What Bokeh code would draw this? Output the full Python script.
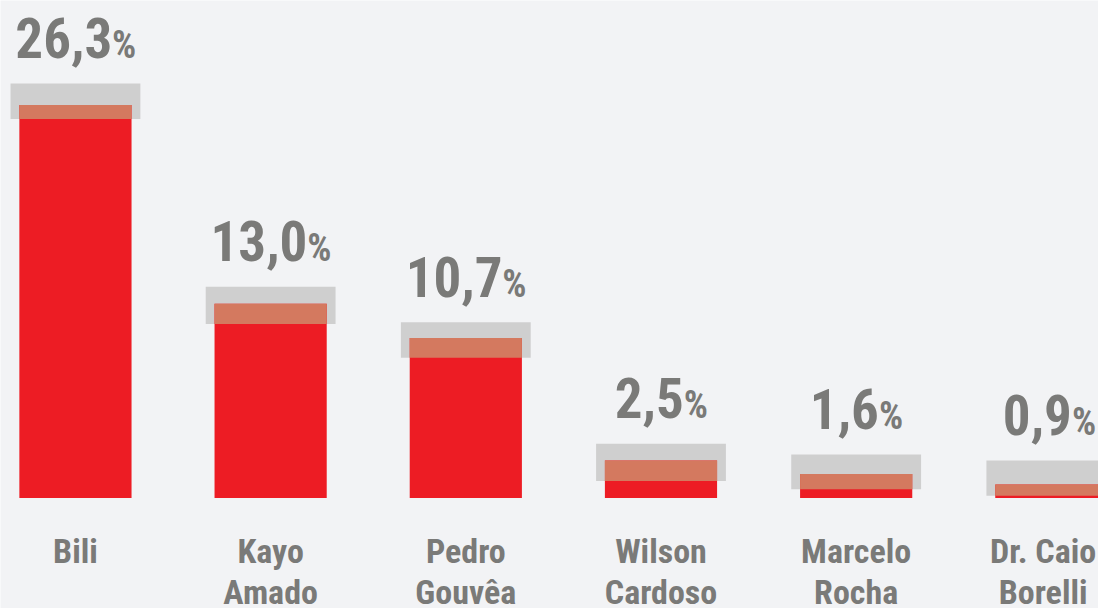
from bokeh.plotting import figure
from bokeh.models import Range1d, ColumnDataSource
from bokeh.core.properties import value
from bokeh.embed import file_html
from bokeh.resources import INLINE

# ---- data ----
candidates = ["Bili", "Kayo\nAmado", "Pedro\nGouvêa", "Wilson\nCardoso", "Marcelo\nRocha", "Dr. Caio\nBorelli"]
values = [26.3, 13.0, 10.7, 2.5, 1.6, 0.9]
labels = ["26,3", "13,0", "10,7", "2,5", "1,6", "0,9"]
band_lo = [25.36, 11.65, 9.38, 1.14, 0.59, 0.15]
band_hi = [27.74, 14.13, 11.76, 3.63, 2.91, 2.51]

BG = "#f2f3f5"
RED = "#ed1c24"
GRAY = "#cfcfcf"
OVER = "#d4795f"
TXT = "#7a7a78"
FONT = value("'Roboto Condensed', Roboto")

W, H = 1098, 608
PITCH = 195.18          # px per category
X0 = 74.95              # px centre of first category
BASE = 497.45           # px of the zero line from the top
PPU = 14.94             # px per percentage point

x = list(range(len(values)))
line1 = [c.split("\n")[0] for c in candidates]
line2 = [c.split("\n")[1] if "\n" in c else "" for c in candidates]
over_bottom = [max(lo, 0) for lo in band_lo]

# approximate text widths (Roboto Condensed Bold) to centre number + small %
NUM_SIZE, PCT_SIZE, NAME_SIZE = 55, 38, 34
def num_width(s):
    return sum(0.22 if ch == "," else 0.5 for ch in s) * NUM_SIZE
pct_w = 0.62 * PCT_SIZE
gap = 2
num_off, pct_off = [], []
for i, s in enumerate(labels):
    nw = num_width(s)
    total = nw + gap + pct_w
    cx = X0 + PITCH * i
    shift = min(0.0, (W - 3) - (cx + total / 2))
    num_off.append(-total / 2 + shift)
    pct_off.append(-total / 2 + nw + gap + shift)

CW = {"M": .76, "D": .57, "C": .57, "B": .55, "K": .55, "A": .58, "P": .55, "G": .59,
      "W": .76, "R": .55, "r": .30, ".": .23, " ": .22, "i": .22, "l": .22, "a": .47,
      "o": .50, "y": .43, "m": .77, "d": .49, "e": .46, "c": .46, "h": .49, "u": .49,
      "v": .43, "ê": .46, "s": .45, "n": .49}
def name_w(s):
    return sum(CW.get(ch, .48) for ch in s) * NAME_SIZE
name_off = []
for i, (a, b) in enumerate(zip(line1, line2)):
    cx = X0 + PITCH * i
    wmax = max(name_w(a), name_w(b))
    name_off.append(min(0.0, (W - 3) - (cx + wmax / 2)))

src = ColumnDataSource(dict(x=x, v=values, lo=band_lo, hi=band_hi, ob=over_bottom,
                            lab=labels, pct=["%"] * len(x), l1=line1, l2=line2,
                            noff=num_off, poff=pct_off, namoff=name_off, zero=[0] * len(x)))

p = figure(width=W, height=H, output_backend="svg", toolbar_location=None,
           x_range=Range1d(-X0 / PITCH, (W - X0) / PITCH),
           y_range=Range1d(-(H - BASE) / PPU, BASE / PPU),
           min_border=0, background_fill_color=BG, border_fill_color=BG,
           outline_line_color=None)
p.axis.visible = False
p.grid.visible = False

p.vbar(x="x", bottom="lo", top="hi", width=0.6653, color=GRAY, line_color=None, source=src)
p.vbar(x="x", bottom="zero", top="v", width=0.5748, color=RED, line_color=None, source=src)
p.vbar(x="x", bottom="ob", top="v", width=0.5748, color=OVER, line_color=None, source=src)

# baseline correction (text renders slightly below the alphabetic baseline)
def corr(size):
    return 0.3 * size

p.text(x="x", y="hi", text="lab", x_offset="noff", y_offset=-29 - corr(NUM_SIZE), source=src,
       text_align="left", text_baseline="alphabetic", text_font=FONT,
       text_font_style="bold", text_font_size=f"{NUM_SIZE}px", text_color=TXT)
p.text(x="x", y="hi", text="pct", x_offset="poff", y_offset=-27 - corr(PCT_SIZE), source=src,
       text_align="left", text_baseline="alphabetic", text_font=FONT,
       text_font_style="bold", text_font_size=f"{PCT_SIZE}px", text_color=TXT)

p.text(x="x", y="zero", text="l1", x_offset="namoff", y_offset=63 - corr(NAME_SIZE), source=src,
       text_align="center", text_baseline="alphabetic", text_font=FONT,
       text_font_style="bold", text_font_size=f"{NAME_SIZE}px", text_color=TXT)
p.text(x="x", y="zero", text="l2", x_offset="namoff", y_offset=104 - corr(NAME_SIZE), source=src,
       text_align="center", text_baseline="alphabetic", text_font=FONT,
       text_font_style="bold", text_font_size=f"{NAME_SIZE}px", text_color=TXT)

html = file_html(p, INLINE)
html = html.replace("<body>", '<body style="background-color:#f2f3f5;">', 1)
open("out.html", "w").write(html)
